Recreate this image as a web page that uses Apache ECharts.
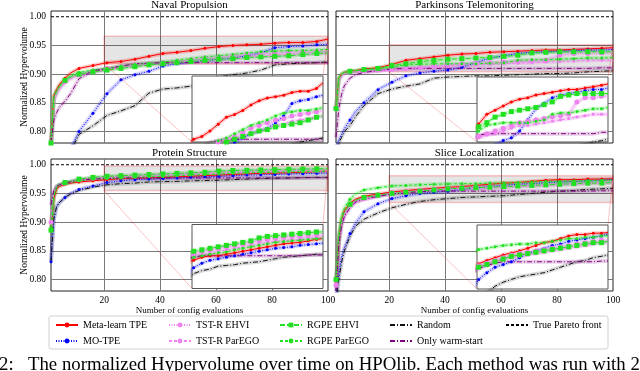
<!DOCTYPE html>
<html>
<head>
<meta charset="utf-8">
<script src="https://cdn.jsdelivr.net/npm/echarts@6/dist/echarts.min.js"></script>
<style>
  html, body { margin: 0; padding: 0; background: #fff; }
  #chart { width: 640px; height: 371px; }
</style>
</head>
<body>
<div id="chart"></div>
<script>
const evals = [1, 2, 3, 4, 6, 8, 11, 16, 21, 26, 31, 36, 41, 46, 51, 56, 61, 66, 71, 76, 81, 86, 91, 96, 100];
const xTicks = [20, 40, 60, 80, 100];
const yTicks = [0.80, 0.85, 0.90, 0.95, 1.00];
const trueFront = 1.0;
const zoomX = [20, 100];

const methods = ['Meta-learn TPE', 'MO-TPE', 'TST-R EHVI', 'TST-R ParEGO', 'RGPE EHVI', 'RGPE ParEGO', 'Random', 'Only warm-start'];
const frontName = 'True Pareto front';

// Naval Propulsion
const navalZoom = [0.918, 0.966];
const navalMetaTPE = [0.780, 0.862, 0.873, 0.882, 0.893, 0.902, 0.910, 0.915, 0.920, 0.922, 0.926, 0.931, 0.936, 0.938, 0.941, 0.945, 0.948, 0.950, 0.951, 0.952, 0.954, 0.955, 0.955, 0.957, 0.961];
const navalMoTPE = [0.700, 0.715, 0.730, 0.740, 0.755, 0.770, 0.800, 0.832, 0.866, 0.890, 0.899, 0.905, 0.914, 0.918, 0.921, 0.924, 0.926, 0.928, 0.932, 0.937, 0.946, 0.948, 0.949, 0.951, 0.952];
const navalTstEhvi = [0.780, 0.855, 0.868, 0.876, 0.887, 0.894, 0.900, 0.905, 0.910, 0.913, 0.916, 0.918, 0.920, 0.922, 0.925, 0.928, 0.930, 0.932, 0.934, 0.935, 0.937, 0.938, 0.939, 0.940, 0.941];
const navalTstParego = [0.780, 0.853, 0.866, 0.874, 0.885, 0.892, 0.898, 0.903, 0.908, 0.911, 0.914, 0.916, 0.918, 0.920, 0.922, 0.924, 0.926, 0.928, 0.930, 0.931, 0.933, 0.934, 0.935, 0.936, 0.937];
const navalRgpeEhvi = [0.780, 0.858, 0.870, 0.878, 0.889, 0.895, 0.900, 0.904, 0.907, 0.910, 0.913, 0.916, 0.918, 0.920, 0.922, 0.924, 0.926, 0.927, 0.929, 0.930, 0.931, 0.932, 0.934, 0.936, 0.937];
const navalRgpeParego = [0.780, 0.860, 0.871, 0.879, 0.890, 0.897, 0.903, 0.907, 0.910, 0.914, 0.917, 0.919, 0.921, 0.924, 0.927, 0.930, 0.932, 0.934, 0.937, 0.939, 0.940, 0.941, 0.941, 0.942, 0.943];
const navalRandom = [0.700, 0.715, 0.725, 0.735, 0.750, 0.765, 0.795, 0.810, 0.828, 0.836, 0.845, 0.867, 0.874, 0.876, 0.879, 0.886, 0.895, 0.899, 0.902, 0.907, 0.916, 0.918, 0.919, 0.920, 0.921];
const navalWarm = [0.780, 0.820, 0.833, 0.842, 0.853, 0.866, 0.892, 0.906, 0.909, 0.914, 0.918, 0.919, 0.920, 0.920, 0.920, 0.920, 0.920, 0.920, 0.920, 0.920, 0.920, 0.920, 0.920, 0.920, 0.920];

// Parkinsons Telemonitoring
const parkZoom = [0.904, 0.951];
const parkMetaTPE = [0.840, 0.893, 0.900, 0.903, 0.905, 0.906, 0.909, 0.911, 0.917, 0.924, 0.927, 0.930, 0.933, 0.935, 0.936, 0.938, 0.939, 0.940, 0.941, 0.942, 0.942, 0.943, 0.944, 0.945, 0.946];
const parkMoTPE = [0.770, 0.785, 0.795, 0.805, 0.820, 0.835, 0.850, 0.873, 0.886, 0.897, 0.902, 0.905, 0.907, 0.912, 0.920, 0.928, 0.932, 0.936, 0.938, 0.939, 0.940, 0.941, 0.942, 0.942, 0.943];
const parkTstEhvi = [0.840, 0.890, 0.898, 0.902, 0.904, 0.905, 0.906, 0.907, 0.908, 0.910, 0.912, 0.914, 0.916, 0.918, 0.919, 0.920, 0.921, 0.922, 0.923, 0.924, 0.933, 0.936, 0.936, 0.937, 0.937];
const parkTstParego = [0.840, 0.889, 0.897, 0.901, 0.903, 0.904, 0.905, 0.906, 0.907, 0.909, 0.910, 0.912, 0.914, 0.916, 0.916, 0.917, 0.918, 0.919, 0.920, 0.921, 0.922, 0.923, 0.924, 0.924, 0.924];
const parkRgpeEhvi = [0.840, 0.893, 0.900, 0.903, 0.905, 0.906, 0.908, 0.910, 0.915, 0.918, 0.922, 0.924, 0.926, 0.927, 0.928, 0.929, 0.931, 0.933, 0.937, 0.938, 0.939, 0.939, 0.939, 0.939, 0.939];
const parkRgpeParego = [0.840, 0.893, 0.900, 0.903, 0.905, 0.906, 0.907, 0.909, 0.912, 0.916, 0.917, 0.918, 0.918, 0.918, 0.918, 0.919, 0.920, 0.924, 0.925, 0.925, 0.926, 0.927, 0.928, 0.928, 0.929];
const parkRandom = [0.750, 0.780, 0.790, 0.800, 0.810, 0.826, 0.845, 0.866, 0.874, 0.879, 0.883, 0.893, 0.895, 0.896, 0.897, 0.897, 0.898, 0.899, 0.900, 0.901, 0.901, 0.902, 0.904, 0.905, 0.906];
const parkWarm = [0.790, 0.840, 0.865, 0.880, 0.893, 0.899, 0.903, 0.906, 0.909, 0.910, 0.910, 0.910, 0.910, 0.910, 0.910, 0.910, 0.910, 0.910, 0.910, 0.910, 0.910, 0.910, 0.910, 0.911, 0.911];

// Protein Structure
const protZoom = [0.955, 0.998];
const protMetaTPE = [0.886, 0.940, 0.958, 0.962, 0.966, 0.968, 0.970, 0.972, 0.974, 0.976, 0.977, 0.977, 0.978, 0.979, 0.980, 0.981, 0.982, 0.983, 0.984, 0.985, 0.9855, 0.986, 0.987, 0.988, 0.9887];
const protMoTPE = [0.831, 0.905, 0.927, 0.934, 0.943, 0.950, 0.957, 0.963, 0.969, 0.972, 0.974, 0.975, 0.976, 0.977, 0.978, 0.979, 0.980, 0.981, 0.982, 0.9825, 0.983, 0.984, 0.9845, 0.985, 0.9855];
const protTstEhvi = [0.900, 0.950, 0.962, 0.965, 0.968, 0.971, 0.974, 0.977, 0.9785, 0.980, 0.981, 0.982, 0.983, 0.984, 0.985, 0.986, 0.987, 0.988, 0.989, 0.9895, 0.990, 0.990, 0.9905, 0.991, 0.991];
const protTstParego = [0.900, 0.950, 0.961, 0.964, 0.967, 0.970, 0.973, 0.975, 0.977, 0.978, 0.979, 0.980, 0.981, 0.982, 0.983, 0.984, 0.985, 0.986, 0.987, 0.987, 0.988, 0.988, 0.989, 0.989, 0.989];
const protRgpeEhvi = [0.886, 0.945, 0.962, 0.966, 0.969, 0.971, 0.975, 0.978, 0.980, 0.981, 0.982, 0.983, 0.984, 0.985, 0.986, 0.987, 0.989, 0.990, 0.9905, 0.991, 0.9915, 0.992, 0.9925, 0.993, 0.993];
const protRgpeParego = [0.886, 0.945, 0.960, 0.964, 0.967, 0.969, 0.972, 0.975, 0.976, 0.977, 0.978, 0.979, 0.9795, 0.981, 0.982, 0.983, 0.984, 0.985, 0.986, 0.9865, 0.987, 0.9875, 0.988, 0.9885, 0.9887];
const protRandom = [0.831, 0.905, 0.927, 0.934, 0.943, 0.949, 0.955, 0.961, 0.965, 0.967, 0.968, 0.970, 0.9705, 0.971, 0.972, 0.9725, 0.973, 0.974, 0.975, 0.976, 0.9765, 0.977, 0.9775, 0.978, 0.978];
const protWarm = [0.930, 0.955, 0.962, 0.965, 0.968, 0.970, 0.973, 0.975, 0.976, 0.977, 0.977, 0.977, 0.977, 0.977, 0.977, 0.977, 0.977, 0.977, 0.977, 0.977, 0.977, 0.977, 0.9775, 0.9775, 0.9775];

// Slice Localization
const sliceZoom = [0.934, 0.981];
const sliceMetaTPE = [0.790, 0.870, 0.905, 0.920, 0.933, 0.940, 0.945, 0.949, 0.9525, 0.955, 0.957, 0.959, 0.9605, 0.962, 0.964, 0.966, 0.968, 0.969, 0.971, 0.973, 0.974, 0.974, 0.975, 0.975, 0.9755];
const sliceMoTPE = [0.770, 0.810, 0.840, 0.855, 0.880, 0.898, 0.918, 0.932, 0.941, 0.946, 0.950, 0.952, 0.954, 0.957, 0.960, 0.962, 0.964, 0.966, 0.967, 0.969, 0.970, 0.971, 0.972, 0.973, 0.9745];
const sliceTstEhvi = [0.790, 0.870, 0.900, 0.915, 0.930, 0.937, 0.942, 0.947, 0.951, 0.953, 0.955, 0.957, 0.959, 0.960, 0.961, 0.962, 0.963, 0.964, 0.965, 0.966, 0.967, 0.968, 0.969, 0.970, 0.970];
const sliceTstParego = [0.790, 0.865, 0.898, 0.912, 0.928, 0.935, 0.940, 0.945, 0.950, 0.952, 0.954, 0.956, 0.957, 0.958, 0.959, 0.960, 0.961, 0.962, 0.963, 0.964, 0.965, 0.966, 0.967, 0.968, 0.968];
const sliceRgpeEhvi = [0.800, 0.870, 0.905, 0.918, 0.931, 0.938, 0.943, 0.947, 0.950, 0.952, 0.954, 0.956, 0.958, 0.959, 0.960, 0.961, 0.962, 0.963, 0.964, 0.965, 0.966, 0.967, 0.968, 0.968, 0.969];
const sliceRgpeParego = [0.800, 0.880, 0.910, 0.925, 0.940, 0.949, 0.956, 0.960, 0.963, 0.964, 0.965, 0.966, 0.9665, 0.967, 0.967, 0.968, 0.968, 0.969, 0.970, 0.971, 0.971, 0.972, 0.972, 0.973, 0.973];
const sliceRandom = [0.760, 0.800, 0.830, 0.850, 0.875, 0.893, 0.905, 0.916, 0.925, 0.931, 0.936, 0.939, 0.941, 0.943, 0.944, 0.945, 0.946, 0.948, 0.950, 0.952, 0.954, 0.955, 0.957, 0.958, 0.959];
const sliceWarm = [0.780, 0.860, 0.895, 0.910, 0.925, 0.935, 0.940, 0.945, 0.949, 0.951, 0.953, 0.954, 0.954, 0.954, 0.954, 0.954, 0.954, 0.954, 0.954, 0.954, 0.954, 0.954, 0.954, 0.9545, 0.9545];

const benchmarks = [
  { title: 'Naval Propulsion', zoom: navalZoom,
    curves: [navalMetaTPE, navalMoTPE, navalTstEhvi, navalTstParego, navalRgpeEhvi, navalRgpeParego, navalRandom, navalWarm] },
  { title: 'Parkinsons Telemonitoring', zoom: parkZoom,
    curves: [parkMetaTPE, parkMoTPE, parkTstEhvi, parkTstParego, parkRgpeEhvi, parkRgpeParego, parkRandom, parkWarm] },
  { title: 'Protein Structure', zoom: protZoom,
    curves: [protMetaTPE, protMoTPE, protTstEhvi, protTstParego, protRgpeEhvi, protRgpeParego, protRandom, protWarm] },
  { title: 'Slice Localization', zoom: sliceZoom,
    curves: [sliceMetaTPE, sliceMoTPE, sliceTstEhvi, sliceTstParego, sliceRgpeEhvi, sliceRgpeParego, sliceRandom, sliceWarm] },
];

const look = [
  { color: '#ff0000', band: 'rgba(255,0,0,0.2)', dash: 'solid', symbol: 'circle', size: 3 },
  { color: '#0000ff', band: 'rgba(0,0,255,0.17)', dash: [1, 1.5], symbol: 'circle', size: 3 },
  { color: '#ee82ee', band: 'rgba(238,130,238,0.3)', dash: [1, 1.5], symbol: 'circle', size: 5 },
  { color: '#ee82ee', band: 'rgba(238,130,238,0.3)', dash: [3, 2], symbol: 'circle', size: 3 },
  { color: '#22e022', band: 'rgba(0,230,0,0.2)', dash: [5, 2], symbol: 'rect', size: 5 },
  { color: '#22e022', band: 'rgba(0,230,0,0.2)', dash: [3, 2], symbol: 'circle', size: 3 },
  { color: '#111111', band: 'rgba(0,0,0,0.15)', dash: [5, 2, 1, 2], symbol: 'none', size: 0 },
  { color: '#800080', band: 'rgba(128,0,128,0.18)', dash: [5, 2, 1, 2], symbol: 'none', size: 0 },
];

const fontFamily = "'Liberation Serif', 'DejaVu Serif', serif";
const mainRects = [[51, 11], [336, 11], [51, 159], [336, 159]];
const insetRects = [[192, 76, 131, 66], [477, 77, 131, 65], [192, 224.5, 131, 64], [477, 225, 131, 64]];

// markers every 5 evaluations, like markevery in the source plot
function points(values) {
  return evals.map((x, k) => (x - 1) % 5 === 0 ? [x, values[k]] : { value: [x, values[k]], symbol: 'none' });
}
function plain(values) {
  return evals.map((x, k) => [x, values[k]]);
}

const grid = [], xAxis = [], yAxis = [], series = [], title = [];

benchmarks.forEach((b, i) => {
  const [gl, gt] = mainRects[i];
  const leftCol = i % 2 === 0, bottomRow = i >= 2;
  grid[i] = { left: gl, top: gt, width: 277, height: 132, show: true, backgroundColor: '#fff',
    borderColor: '#222', borderWidth: 1, outerBoundsMode: 'none' };
  xAxis[i] = {
    type: 'value', gridIndex: i, min: 1, max: 100,
    axisLine: { show: false },
    axisTick: { show: false, customValues: xTicks.slice(0, 4) },
    splitLine: { show: true, lineStyle: { color: '#7a7a7a', width: 1 } },
    axisLabel: { show: bottomRow, customValues: xTicks, margin: 4, fontSize: 9.5, color: '#000', fontFamily },
    name: bottomRow ? 'Number of config evaluations' : '',
    nameLocation: 'middle', nameGap: 15, nameMoveOverlap: false,
    nameTextStyle: { fontSize: 9, color: '#000', fontFamily },
  };
  yAxis[i] = {
    type: 'value', gridIndex: i, min: 0.78, max: 1.01,
    axisLine: { show: false },
    axisTick: { show: false, customValues: yTicks.slice(0, 4) },
    splitLine: { show: true, lineStyle: { color: '#7a7a7a', width: 1 } },
    axisLabel: { show: leftCol, customValues: yTicks, margin: 5, fontSize: 9.5, color: '#000', fontFamily,
      formatter: v => v.toFixed(2) },
    name: leftCol ? 'Normalized Hypervolume' : '',
    nameLocation: 'middle', nameGap: 22, nameMoveOverlap: false,
    nameTextStyle: { fontSize: 9.5, color: '#000', fontFamily },
  };

  const [il, it, iw, ih] = insetRects[i];
  grid[4 + i] = { left: il, top: it, width: iw, height: ih, show: true, backgroundColor: '#fff',
    borderColor: '#555', borderWidth: 1, z: 5, outerBoundsMode: 'none' };
  xAxis[4 + i] = { type: 'value', gridIndex: 4 + i, min: zoomX[0], max: zoomX[1], show: false };
  yAxis[4 + i] = { type: 'value', gridIndex: 4 + i, min: b.zoom[0], max: b.zoom[1], show: false };

  title.push({
    text: b.title, left: gl + 138.5, top: gt - 11.5, textAlign: 'center', padding: 0,
    textStyle: { fontSize: 11, fontWeight: 'normal', color: '#000', fontFamily },
  });

  // true front + the shaded zoom region
  series.push({
    name: frontName, type: 'line', xAxisIndex: i, yAxisIndex: i, z: 1, silent: true, animation: false,
    data: [[1, trueFront], [100, trueFront]], symbol: 'none',
    lineStyle: { color: '#000', width: 1, type: [3, 2] }, itemStyle: { color: '#000' },
    markArea: {
      silent: true,
      itemStyle: { color: 'rgba(0,0,0,0.1)', borderColor: 'rgba(255,0,0,0.22)', borderWidth: 1.5 },
      data: [[{ coord: [zoomX[0], b.zoom[0]] }, { coord: [zoomX[1], b.zoom[1]] }]],
    },
  });

  b.curves.forEach((values, m) => {
    const s = look[m];
    [[i, 2], [4 + i, 6]].forEach(([ax, z]) => {
      series.push({
        name: methods[m] + ' band', type: 'line', xAxisIndex: ax, yAxisIndex: ax, z, silent: true,
        animation: false, data: plain(values), symbol: 'none',
        lineStyle: { color: s.band, width: 4 },
      });
      series.push({
        name: methods[m], type: 'line', xAxisIndex: ax, yAxisIndex: ax, z: z + 1, silent: true,
        animation: false, data: points(values), symbol: s.symbol, symbolSize: s.size, showAllSymbol: true,
        lineStyle: { color: s.color, width: 1, type: s.dash }, itemStyle: { color: s.color },
      });
    });
  });
});

const legendNames = methods.concat([frontName]);
const legendCols = [[0, 1], [2, 3], [4, 5], [6, 7], [8]];
const legendLeft = [55, 168, 279, 389, 505];
const legend = legendCols.map((col, c) => ({
  orient: 'vertical', left: legendLeft[c], top: 320, padding: 0,
  itemWidth: 22, itemHeight: 6, itemGap: 6, selectedMode: false,
  textStyle: { fontSize: 10, color: '#000', fontFamily },
  data: col.map(k => k >= 6 ? { name: legendNames[k], itemStyle: { opacity: 0 } } : legendNames[k]),
}));

const chart = echarts.init(document.getElementById('chart'));
chart.setOption({ animation: false, title, grid, xAxis, yAxis, legend, series });

// connectors from the zoom region to the inset, plus legend frame and caption
const graphic = [
  { type: 'rect', shape: { x: 49, y: 316, width: 559, height: 33, r: 2 },
    style: { fill: 'none', stroke: '#d0d0d0', lineWidth: 1 }, z: 0 },
  { type: 'text', x: -1, y: 365,
    style: { text: '2:', fontSize: 18.8, fontFamily, fill: '#000', verticalAlign: 'middle' } },
  { type: 'text', x: 28, y: 365,
    style: { text: 'The normalized Hypervolume over time on HPOlib. Each method was run with 20 repetitions',
      fontSize: 18.8, fontFamily, fill: '#000', verticalAlign: 'middle' } },
];
benchmarks.forEach((b, i) => {
  const [il, it, iw, ih] = insetRects[i];
  const lowLeft = chart.convertToPixel({ gridIndex: i }, [zoomX[0], b.zoom[0]]);
  const upRight = chart.convertToPixel({ gridIndex: i }, [zoomX[1], b.zoom[1]]);
  graphic.push({ type: 'line', z: 4, silent: true,
    shape: { x1: lowLeft[0], y1: lowLeft[1], x2: il, y2: it + ih },
    style: { stroke: 'rgba(255,0,0,0.3)', lineWidth: 0.8 } });
  graphic.push({ type: 'line', z: 4, silent: true,
    shape: { x1: upRight[0], y1: upRight[1], x2: il + iw, y2: it },
    style: { stroke: 'rgba(255,0,0,0.3)', lineWidth: 0.8 } });
});
chart.setOption({ graphic });
</script>
</body>
</html>
